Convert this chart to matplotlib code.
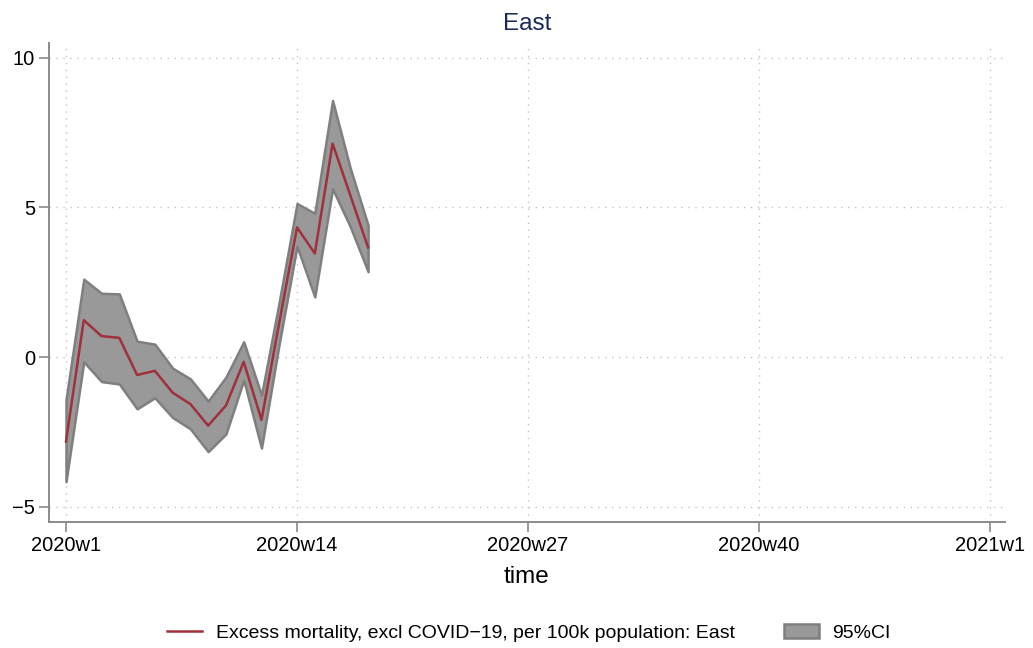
import matplotlib
matplotlib.use("Agg")
import matplotlib.pyplot as plt
from matplotlib.lines import Line2D
from matplotlib.patches import Patch

plt.rcParams['font.family'] = ['Liberation Sans', 'DejaVu Sans']

weeks = list(range(1, 19))
mean = [-2.82, 1.23, 0.70, 0.64, -0.60, -0.46, -1.19, -1.57, -2.29, -1.62,
        -0.16, -2.10, 1.15, 4.33, 3.46, 7.13, 5.40, 3.66]
upper = [-1.43, 2.60, 2.13, 2.11, 0.53, 0.43, -0.37, -0.73, -1.47, -0.67,
         0.51, -1.27, 1.85, 5.13, 4.80, 8.57, 6.30, 4.40]
lower = [-4.16, -0.16, -0.82, -0.90, -1.73, -1.36, -2.02, -2.40, -3.16, -2.57,
         -0.77, -3.04, 0.45, 3.70, 2.01, 5.62, 4.35, 2.85]
xtick_pos = [1, 14, 27, 40, 53]
xtick_labels = ["2020w1", "2020w14", "2020w27", "2020w40", "2021w1"]
yticks = [-5, 0, 5, 10]

line_col = '#a0303c'
fill_col = '#999999'
edge_col = '#7f7f7f'
axis_col = '#8a8a8a'

fig = plt.figure(figsize=(10.33, 6.48), dpi=100)
ax = fig.add_axes([49/1033, 1-522/648, (1005-49)/1033, (522-43)/648])

ax.fill_between(weeks, lower, upper, facecolor=fill_col, edgecolor=edge_col,
                linewidth=1.8, zorder=2)
ax.plot(weeks, mean, color=line_col, linewidth=1.8, zorder=3)

ax.set_xlim(0.043, 53.84)
ax.set_ylim(-5.51, 10.49)
ax.set_xticks(xtick_pos)
ax.set_xticklabels(xtick_labels)
ax.set_yticks(yticks)

for s in ['top', 'right']:
    ax.spines[s].set_visible(False)
for s in ['left', 'bottom']:
    ax.spines[s].set_color(axis_col)
    ax.spines[s].set_linewidth(1.4)
ax.tick_params(axis='both', direction='out', length=7, width=1.2, color=axis_col,
               labelsize=14.5, pad=3, labelcolor='black')

ax.grid(True, color='#c4c4c4', linestyle=(0, (1, 4)), linewidth=1.0, zorder=0)
ax.set_axisbelow(True)

ax.set_xlabel('time', fontsize=17.5, labelpad=8)
ax.set_title('East', fontsize=17.5, color='#1a2b5a', pad=9)

handles = [Line2D([0], [0], color=line_col, linewidth=1.8),
           Patch(facecolor=fill_col, edgecolor=edge_col, linewidth=1.8)]
labels = ['Excess mortality, excl COVID\u221219, per 100k population: East', '95%CI']
fig.legend(handles, labels, loc='center', bbox_to_anchor=(0.512, 1-633/648),
           ncol=2, frameon=False, fontsize=14, columnspacing=2.5,
           handlelength=1.8, handletextpad=0.7)

fig.savefig('out.png', dpi=100)
